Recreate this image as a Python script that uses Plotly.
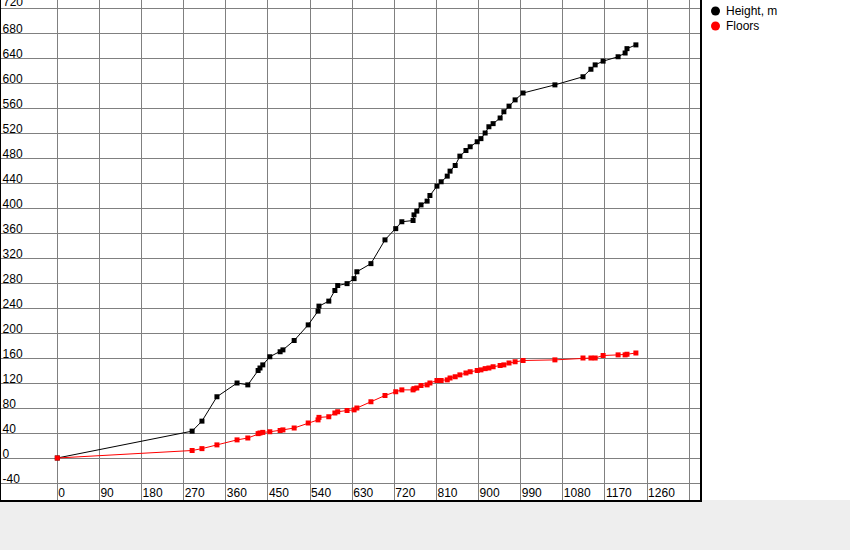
import plotly.graph_objects as go

# ---- data ----
x_vals = [0, 288, 309, 341, 384, 407, 429, 433, 439, 454, 476, 482, 506, 536, 557, 559,
          580, 593, 599, 619, 634, 640, 670, 700, 723, 736, 760, 762, 768, 777, 790, 796,
          811, 820, 833, 839, 850, 860, 873, 882, 897, 905, 914, 922, 931, 946, 954, 965,
          978, 995, 1063, 1123, 1140, 1149, 1166, 1198, 1213, 1217, 1236]
height_m = [0, 43, 59, 98, 120, 117, 140, 144, 149, 162, 170, 173, 188, 213, 235, 243,
            251, 268, 276, 279, 287, 298, 311, 349, 367, 378, 380, 389, 395, 405, 411, 420,
            435, 442, 451, 459, 468, 483, 492, 498, 506, 511, 520, 530, 535, 544, 554, 563,
            573, 584, 597, 610, 622, 629, 635, 642, 648, 655, 661]
floors = [0, 12, 15, 21, 29, 32, 39, 40, 41, 42, 44, 45, 48, 56, 61, 65,
          66, 72, 74, 76, 77, 80, 90, 100, 106, 109, 109, 111, 112, 116, 117, 120,
          124, 124, 125, 128, 130, 133, 136, 138, 140, 141, 143, 144, 146, 148, 149, 152,
          154, 156, 157, 160, 160, 160, 164, 165, 165, 166, 168]

x_tick_vals = [-90, 0, 90, 180, 270, 360, 450, 540, 630, 720, 810, 900, 990, 1080, 1170, 1260, 1350]
x_tick_text = ["", "0", "90", "180", "270", "360", "450", "540", "630", "720", "810", "900",
               "990", "1080", "1170", "1260", "1350"]
y_tick_vals = [-40, 0, 40, 80, 120, 160, 200, 240, 280, 320, 360, 400, 440, 480, 520, 560,
               600, 640, 680, 720]
y_tick_text = ["-40", "0", "40", "80", "120", "160", "200", "240", "280", "320", "360", "400",
               "440", "480", "520", "560", "600", "640", "680", "720"]

series_names = ["Height, m", "Floors"]
series_colors = ["#000000", "#FF0000"]

FONT = "Liberation Sans, Arial, sans-serif"

fig = go.Figure()
for name, vals, col in zip(series_names, [height_m, floors], series_colors):
    fig.add_trace(go.Scatter(
        x=x_vals, y=vals, mode="lines+markers", name=name, showlegend=False,
        line=dict(color=col, width=1),
        marker=dict(symbol="square", size=5, color=col, line=dict(width=0)),
        hoverinfo="x+y+name",
    ))

L, R, T, B = 1, 150, 0, 50
W, H = 850, 550
pw = W - L - R
ph = H - T - B
x0_px = 57.3 - L
px_per_unit_x = 42.13 / 90
x_range = [-x0_px / px_per_unit_x, (pw - x0_px) / px_per_unit_x]
px_per_unit_y = 25 / 40
y_range = [-(500 - 458) / px_per_unit_y, 458 / px_per_unit_y]


def pxx(px):
    return (px - L) / pw


def pxy(py):
    return 1 - (py - T) / ph


shapes = [dict(
    type="rect", xref="paper", yref="paper",
    x0=1, x1=pxx(W + 2), y0=0, y1=pxy(-2),
    fillcolor="#FFFFFF", line=dict(width=0), layer="below",
)]
annotations = []
# legend (circle symbol + label), one row per series
for i, (name, col) in enumerate(zip(series_names, series_colors)):
    cy = 11 + 15 * i
    shapes.append(dict(
        type="circle", xref="paper", yref="paper",
        x0=pxx(711), x1=pxx(720), y0=pxy(cy + 4.5), y1=pxy(cy - 4.5),
        fillcolor=col, line=dict(width=0), layer="above",
    ))
    annotations.append(dict(
        xref="paper", yref="paper", x=pxx(724), y=pxy(cy), xanchor="left", yanchor="middle",
        text=name, showarrow=False, font=dict(family=FONT, size=12, color="#000000"),
    ))

# top y label, partly cut off by the page edge as in the original
annotations.append(dict(
    xref="paper", yref="y", x=pxx(1), y=y_tick_vals[-1], xanchor="left", yanchor="bottom",
    yshift=-3, text=y_tick_text[-1], showarrow=False,
    font=dict(family=FONT, size=12, color="#000000"),
))

fig.update_layout(
    width=W, height=H,
    margin=dict(l=L, r=R, t=T, b=B, pad=0, autoexpand=False),
    paper_bgcolor="#EEEEEE",
    plot_bgcolor="#FFFFFF",
    font=dict(family=FONT, size=12, color="#000000"),
    showlegend=False,
    shapes=shapes,
    annotations=annotations,
)

fig.update_xaxes(
    range=x_range, tickmode="array", tickvals=x_tick_vals, ticktext=x_tick_text,
    showgrid=True, gridcolor="#808080", gridwidth=1, zeroline=False,
    showline=True, linecolor="#000000", linewidth=2, mirror=True,
    ticks="", ticklabelposition="inside right", ticklabelstandoff=-3,
    tickfont=dict(family=FONT, size=12, color="#000000"),
    fixedrange=True,
)
fig.update_yaxes(
    range=y_range, tickmode="array", tickvals=y_tick_vals, ticktext=y_tick_text,
    showgrid=True, gridcolor="#808080", gridwidth=1, zeroline=False,
    showline=True, linecolor="#000000", linewidth=2, mirror=True,
    ticks="", ticklabelposition="inside top", ticklabelshift=4,
    tickfont=dict(family=FONT, size=12, color="#000000"),
    fixedrange=True,
)

fig.write_html("out.html", config=dict(displayModeBar=False))

# remove the browser's default page margin so the figure sits at (0, 0)
with open("out.html", encoding="utf-8") as f:
    html = f.read()
html = html.replace("<body>", '<body style="margin:0;padding:0;overflow:hidden">', 1)
with open("out.html", "w", encoding="utf-8") as f:
    f.write(html)
